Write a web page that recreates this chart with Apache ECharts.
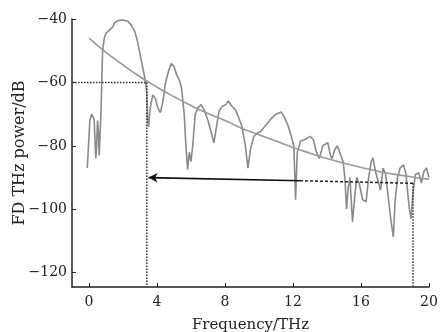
<!DOCTYPE html>
<html>
<head>
<meta charset="utf-8">
<script src="https://cdn.jsdelivr.net/npm/echarts@6/dist/echarts.min.js"></script>
<style>html,body{margin:0;padding:0;background:#fff}#c{width:444px;height:332px}</style>
</head>
<body>
<div id="c"></div>
<script>
var xTicks = [0, 4, 8, 12, 16, 20];
var yTicks = [-120, -100, -80, -60, -40];
var spectrum = [
[-0.1,-87],[0.05,-72],[0.15,-70],[0.3,-71.5],[0.4,-84],[0.45,-80],[0.5,-72],[0.55,-75],[0.6,-83],[0.7,-70],
[0.75,-60],[0.8,-50],[0.9,-46],[1.0,-44.5],[1.2,-43.5],[1.4,-42.5],[1.5,-41.2],[1.7,-40.5],[2.0,-40.3],[2.3,-40.8],
[2.5,-42],[2.7,-44],[2.85,-47],[3.0,-51],[3.15,-55],[3.3,-59],[3.4,-63],[3.45,-72],[3.5,-74],[3.6,-68],
[3.75,-64],[3.9,-65],[4.05,-68],[4.2,-69.5],[4.35,-66],[4.5,-60],[4.7,-56],[4.85,-54],[5.0,-55],[5.15,-57.5],
[5.3,-59],[5.45,-62],[5.6,-70],[5.7,-80],[5.8,-87.5],[5.9,-82],[6.0,-85],[6.1,-80],[6.25,-70],[6.4,-68],
[6.6,-67],[6.8,-69],[7.0,-72],[7.2,-76],[7.35,-79],[7.5,-74],[7.65,-69],[7.85,-67.5],[8.05,-67],[8.2,-65.8],
[8.4,-67.5],[8.6,-68.5],[8.8,-71],[9.0,-74],[9.2,-80],[9.35,-87],[9.5,-81],[9.7,-77],[9.9,-76],[10.1,-75.5],
[10.4,-73.5],[10.7,-71.5],[11.0,-70],[11.3,-69.3],[11.5,-71],[11.7,-73.5],[11.9,-77],[12.05,-80],[12.15,-97],[12.25,-82],
[12.45,-78.5],[12.7,-78],[13.0,-77],[13.2,-78],[13.35,-81.5],[13.55,-84],[13.75,-80],[13.9,-79.5],[14.05,-79],[14.2,-83],
[14.3,-84],[14.45,-81.3],[14.6,-80],[14.75,-82],[14.95,-85],[15.05,-90],[15.15,-100],[15.25,-93],[15.35,-90],[15.5,-104],
[15.65,-95],[15.75,-90],[15.9,-92],[16.1,-97],[16.3,-97.6],[16.45,-90],[16.6,-85],[16.7,-83.8],[16.85,-88],[17.0,-91],
[17.15,-94],[17.3,-87],[17.45,-89],[17.6,-96],[17.75,-103],[17.9,-108.7],[18.0,-98],[18.15,-90],[18.3,-87],[18.5,-86],
[18.65,-89],[18.75,-95],[18.85,-100],[18.95,-103],[19.05,-95],[19.2,-89],[19.4,-88.5],[19.55,-91.7],[19.7,-88],[19.85,-87],
[20.0,-90]
];
var fitCurve = [
[0,-46],[1,-50.5],[2,-54.5],[3,-58.2],[4,-61.5],[5,-64.5],[6,-67.3],[7,-69.8],[8,-72],[9,-74.5],
[10,-76.5],[11,-78.5],[12,-80.5],[13,-82.3],[14,-84],[15,-85.5],[16,-86.8],[17,-88],[18,-89],[19,-89.8],[20,-90.5]
];
var hLine60 = [[-1,-60],[3.4,-60]];
var vLineLeft = [[3.4,-60],[3.4,-124.5]];
var vLineRight = [[19.06,-91.8],[19.06,-124.5]];
var arrowSolid = [[12.5,-91.0],[3.5,-90.0]];
var arrowDotted = [[19.06,-91.8],[12.5,-91.0]];

var font = 'DejaVu Serif';
var chart = echarts.init(document.getElementById('c'), null, {renderer: 'canvas'});
chart.setOption({
  animation: false,
  backgroundColor: '#fff',
  grid: {left: 72, right: 15, top: 19, bottom: 45, containLabel: false, outerBoundsMode: 'none'},
  xAxis: {
    type: 'value', min: -1, max: 20,
    name: 'Frequency/THz', nameLocation: 'middle', nameGap: 31, nameMoveOverlap: false,
    nameTextStyle: {fontFamily: font, fontSize: 15, color: '#222'},
    axisLine: {show: true, onZero: false, lineStyle: {color: '#222', width: 1.5}},
    axisTick: {show: true, inside: true, length: 4, customValues: xTicks, lineStyle: {color: '#222'}},
    axisLabel: {customValues: xTicks, fontFamily: font, fontSize: 14, color: '#222', margin: 8},
    splitLine: {show: false}
  },
  yAxis: {
    type: 'value', min: -124.5, max: -40,
    name: 'FD THz power/dB', nameLocation: 'middle', nameGap: 44, nameRotate: 90, nameMoveOverlap: false,
    nameTextStyle: {fontFamily: font, fontSize: 16, color: '#222'},
    axisLine: {show: true, onZero: false, lineStyle: {color: '#222', width: 1.5}},
    axisTick: {show: true, inside: true, length: 4, customValues: yTicks, lineStyle: {color: '#222'}},
    axisLabel: {customValues: yTicks, fontFamily: font, fontSize: 14, color: '#222', margin: 5,
      formatter: function (v) { return String(v).replace('-', '\u2212'); }},
    splitLine: {show: false}
  },
  series: [
    {type: 'line', data: spectrum, symbol: 'none', lineStyle: {color: '#8a8a8a', width: 1.6}},
    {type: 'line', data: fitCurve, symbol: 'none', smooth: true, lineStyle: {color: '#9a9a9a', width: 1.6}},
    {type: 'line', data: hLine60, symbol: 'none', lineStyle: {color: '#333', width: 1.5, type: 'dotted'}},
    {type: 'line', data: vLineLeft, symbol: 'none', lineStyle: {color: '#333', width: 1.5, type: 'dotted'}},
    {type: 'line', data: vLineRight, symbol: 'none', lineStyle: {color: '#333', width: 1.5, type: 'dotted'}},
    {type: 'line', data: arrowDotted, symbol: 'none', lineStyle: {color: '#222', width: 1.5, type: [3, 2]}},
    {type: 'line', data: [], symbol: 'none',
      markLine: {silent: true, symbol: ['none', 'arrow'], symbolSize: [7, 9], label: {show: false},
        lineStyle: {color: '#111', width: 1.6, type: 'solid'},
        data: [[{coord: arrowSolid[0]}, {coord: arrowSolid[1]}]]}}
  ]
});
</script>
</body>
</html>
